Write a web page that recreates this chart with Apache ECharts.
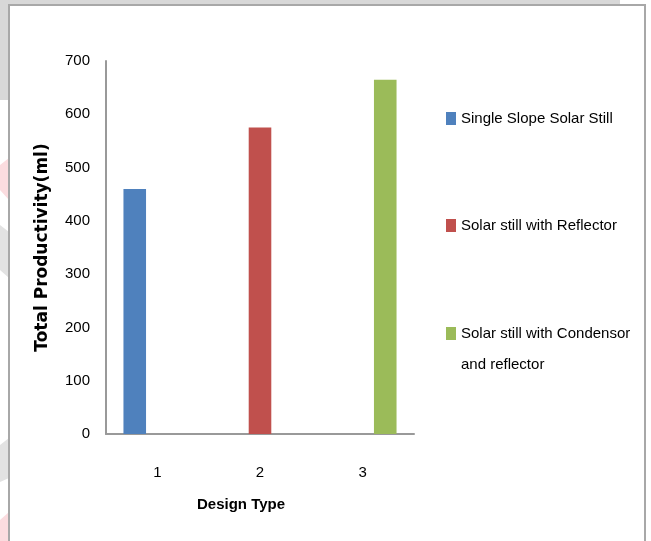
<!DOCTYPE html>
<html>
<head>
<meta charset="utf-8">
<script src="https://cdn.jsdelivr.net/npm/echarts@6/dist/echarts.min.js"></script>
<style>
  html, body { margin: 0; padding: 0; background: #ffffff; }
  #chart { width: 651px; height: 541px; }
</style>
</head>
<body>
<div id="chart"></div>
<script>
// Design types on the x axis
const categories = ['1', '2', '3'];
// One series per still design
const seriesNames = [
  'Single Slope Solar Still',
  'Solar still with Reflector',
  'Solar still with Condensor and reflector'
];
// Total productivity (ml) for each design
const productivity = [460, 575, 665];
const seriesColors = ['#4F81BD', '#C0504D', '#9BBB59'];
// Value axis ticks
const yMin = 0, yMax = 700, yStep = 100;

const sans = "'Liberation Sans', Arial, sans-serif";

// Each series only carries its own design's value; other slots stay empty
const series = seriesNames.map((name, i) => ({
  name: name,
  type: 'bar',
  barGap: '0%',
  barCategoryGap: '34%',
  itemStyle: { color: seriesColors[i] },
  data: categories.map((c, j) => (j === i ? productivity[i] : '-'))
}));

const chart = echarts.init(document.getElementById('chart'), null, { renderer: 'canvas' });

chart.setOption({
  animation: false,
  backgroundColor: '#ffffff',
  textStyle: { fontFamily: sans },
  grid: { left: 106, right: 237, top: 61, bottom: 107 },
  xAxis: {
    type: 'category',
    data: categories,
    axisLine: { show: true, lineStyle: { color: '#999999', width: 2 } },
    axisTick: { show: false },
    axisLabel: { margin: 31, fontSize: 15, color: '#000000', fontFamily: sans },
    name: 'Design Type',
    nameLocation: 'middle',
    nameGap: 63,
    nameTextStyle: {
      fontSize: 15, fontWeight: 'bold', color: '#000000', fontFamily: sans,
      padding: [0, 38, 0, 0]
    }
  },
  yAxis: {
    type: 'value',
    min: yMin,
    max: yMax,
    interval: yStep,
    splitLine: { show: false },
    axisLine: { show: true, lineStyle: { color: '#999999', width: 2 } },
    axisTick: { show: false },
    axisLabel: { margin: 16, fontSize: 15, color: '#000000', fontFamily: sans },
    name: 'Total Productivity(ml)',
    nameLocation: 'middle',
    nameGap: 55,
    nameTextStyle: {
      fontSize: 17, fontWeight: 'bold', color: '#000000', fontFamily: "'DejaVu Sans', sans-serif"
    }
  },
  legend: [
    {
      orient: 'vertical',
      left: 441,
      top: 106,
      itemWidth: 10,
      itemHeight: 13,
      itemGap: 92,
      icon: 'rect',
      textStyle: { fontSize: 15, color: '#000000', fontFamily: sans },
      data: [seriesNames[0], seriesNames[1]]
    },
    {
      orient: 'vertical',
      left: 441,
      top: 282,
      itemWidth: 10,
      itemHeight: 13,
      icon: 'rect',
      // wrapped over two lines; the leading empty line keeps the swatch beside the first one
      formatter: function (name) {
        return '\n' + name.replace(' and ', '\nand ');
      },
      textStyle: {
        fontSize: 15, color: '#000000', fontFamily: sans, lineHeight: 31
      },
      data: [seriesNames[2]]
    }
  ],
  graphic: [
    // grey page margin around the framed chart
    { type: 'rect', silent: true, z: -10, shape: { x: 0, y: 0, width: 620, height: 5 }, style: { fill: '#d8d8d8' } },
    { type: 'rect', silent: true, z: -10, shape: { x: 0, y: 0, width: 9, height: 100 }, style: { fill: '#d8d8d8' } },
    { type: 'polygon', silent: true, z: -10, shape: { points: [[0, 165], [9, 158], [9, 200], [0, 190]] }, style: { fill: '#fbdcdf' } },
    { type: 'polygon', silent: true, z: -10, shape: { points: [[0, 225], [9, 232], [9, 278], [0, 270]] }, style: { fill: '#e2e2e2' } },
    { type: 'polygon', silent: true, z: -10, shape: { points: [[0, 445], [9, 438], [9, 478], [0, 482]] }, style: { fill: '#e2e2e2' } },
    { type: 'polygon', silent: true, z: -10, shape: { points: [[0, 520], [9, 512], [9, 541], [0, 541]] }, style: { fill: '#fbdcdf' } },
    // chart frame
    { type: 'rect', silent: true, z: -5, shape: { x: 9, y: 5, width: 636, height: 560 }, style: { fill: 'none', stroke: '#a8a8a8', lineWidth: 2 } }
  ],
  series: series
});
</script>
</body>
</html>
